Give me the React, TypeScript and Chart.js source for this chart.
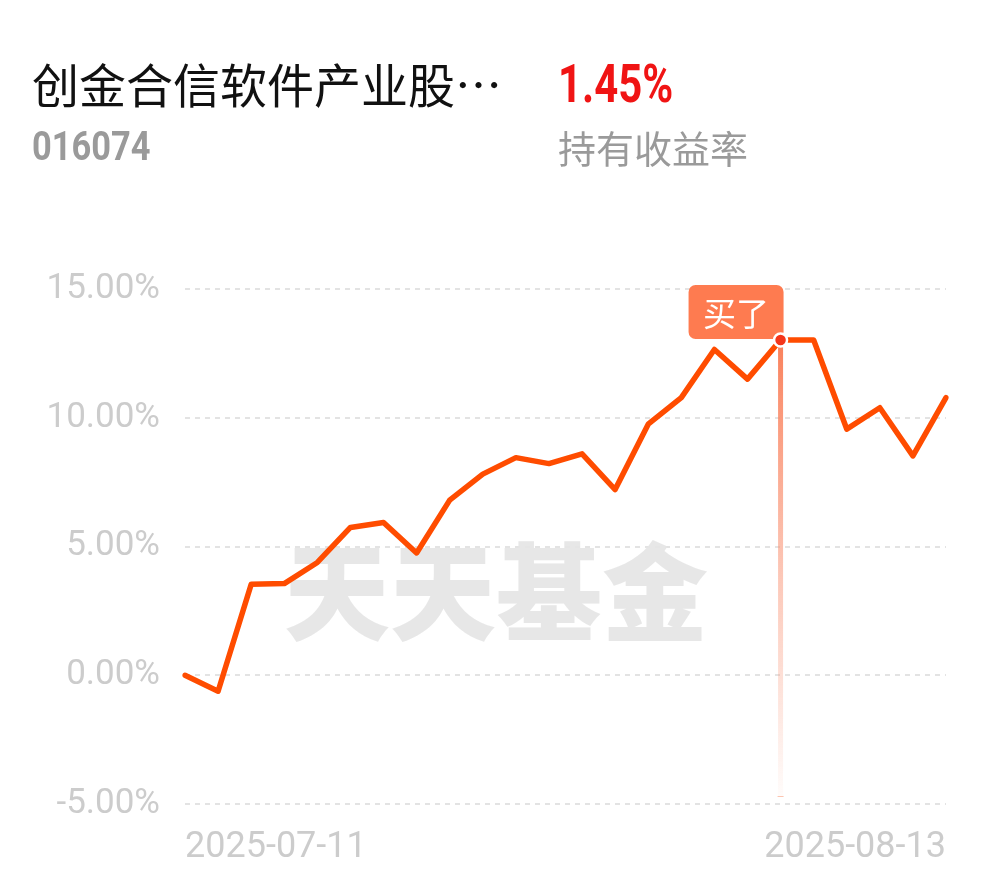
import React, { useEffect, useRef } from "react";
import { Chart, registerables } from "chart.js";

Chart.register(...registerables);

const dates = [
  "2025-07-11", "2025-07-14", "2025-07-15", "2025-07-16", "2025-07-17", "2025-07-18",
  "2025-07-21", "2025-07-22", "2025-07-23", "2025-07-24", "2025-07-25",
  "2025-07-28", "2025-07-29", "2025-07-30", "2025-07-31", "2025-08-01",
  "2025-08-04", "2025-08-05", "2025-08-06", "2025-08-07", "2025-08-08",
  "2025-08-11", "2025-08-12", "2025-08-13",
];
const returns = [
  0, -0.62, 3.53, 3.56, 4.38, 5.74, 5.93, 4.75, 6.8, 7.81, 8.45, 8.22,
  8.6, 7.21, 9.75, 10.78, 12.65, 11.5, 13.02, 13.02, 9.56, 10.39, 8.52, 10.78,
];
const yTicks = [-5, 0, 5, 10, 15];
const buyIndex = 18;
const buyLabel = "买了";
const watermark = "天天基金";
const fundName = "创金合信软件产业股…";
const fundCode = "016074";
const holdReturn = "1.45%";
const holdReturnLabel = "持有收益率";

const decorPlugin = {
  id: "decor",
  beforeDatasetsDraw(chart: any) {
    const { ctx, scales } = chart;
    // watermark
    ctx.save();
    ctx.font = '900 106px "Noto Sans CJK SC"';
    ctx.fillStyle = "rgba(228,228,228,0.9)";
    ctx.textAlign = "center";
    ctx.textBaseline = "middle";
    ctx.fillText(watermark, 496, 592);
    ctx.restore();
    // buy vertical line
    const pt = chart.getDatasetMeta(0).data[buyIndex];
    if (!pt) return;
    const bottom = scales.y.getPixelForValue(-5) - 8;
    const g = ctx.createLinearGradient(0, pt.y, 0, bottom);
    g.addColorStop(0, "rgba(250,128,90,1)");
    g.addColorStop(0.5, "rgba(250,150,120,0.55)");
    g.addColorStop(1, "rgba(250,150,120,0.03)");
    ctx.save();
    ctx.fillStyle = g;
    ctx.fillRect(pt.x - 2.5, pt.y, 5, bottom - pt.y);
    ctx.fillStyle = "rgba(250,140,100,0.5)";
    ctx.fillRect(pt.x - 3, bottom, 6, 1);
    ctx.restore();
  },
  afterDatasetsDraw(chart: any) {
    const { ctx } = chart;
    const pt = chart.getDatasetMeta(0).data[buyIndex];
    if (!pt) return;
    ctx.save();
    const w = 95, h = 54, r = 7;
    const right = pt.x + 3, bot = pt.y - 1;
    const left = right - w, top = bot - h;
    ctx.fillStyle = "#fe7b50";
    ctx.beginPath();
    ctx.roundRect(left, top, w, h, r);
    ctx.fill();
    ctx.fillStyle = "#ffffff";
    ctx.font = '400 33px "Noto Sans CJK SC"';
    ctx.textAlign = "center";
    ctx.textBaseline = "middle";
    ctx.fillText(buyLabel, left + w / 2, top + h / 2 + 1);
    ctx.beginPath();
    ctx.arc(pt.x, pt.y, 6.5, 0, Math.PI * 2);
    ctx.fillStyle = "#f4361b";
    ctx.fill();
    ctx.lineWidth = 2.5;
    ctx.strokeStyle = "#ffffff";
    ctx.stroke();
    ctx.restore();
  },
};

export default function App() {
  const ref = useRef<HTMLCanvasElement>(null);
  useEffect(() => {
    const prevMargin = document.body.style.margin;
    document.body.style.margin = "0";
    const last = dates.length - 1;
    const chart = new Chart(ref.current as HTMLCanvasElement, {
      type: "line",
      data: {
        labels: dates,
        datasets: [
          {
            data: returns,
            borderColor: "#ff4c00",
            borderWidth: 5.5,
            pointRadius: 0,
            tension: 0,
            borderCapStyle: "round",
            borderJoinStyle: "round",
            fill: false,
          },
        ],
      },
      options: {
        responsive: false,
        animation: false,
        events: [],
        layout: { padding: { top: 289, right: 44, bottom: 18, left: 0 } },
        plugins: { legend: { display: false }, tooltip: { enabled: false } },
        scales: {
          x: {
            type: "category",
            grid: { display: false },
            border: { display: false },
            afterFit: (s: any) => { s.height = 56; },
            ticks: {
              autoSkip: false,
              maxRotation: 0,
              minRotation: 0,
              align: "inner",
              padding: 14,
              color: "#cccccc",
              font: { family: "Roboto", size: 36 },
              callback: (_v: any, i: number) => (i === 0 || i === last ? dates[i] : ""),
            },
          },
          y: {
            min: -5,
            max: 15,
            afterBuildTicks: (s: any) => { s.ticks = yTicks.map((v) => ({ value: v })); },
            afterFit: (s: any) => { s.width = 185; },
            grid: { color: "#e3e3e3", lineWidth: 2, drawTicks: false },
            border: { display: false, dash: [5, 5] },
            ticks: {
              padding: 25,
              color: "#cccccc",
              font: { family: "Roboto", size: 35 },
              callback: (v: any) => Number(v).toFixed(2) + "%",
            },
          },
        },
      },
      plugins: [decorPlugin],
    });
    return () => {
      chart.destroy();
      document.body.style.margin = prevMargin;
    };
  }, []);

  return (
    <div style={{ position: "absolute", left: 0, top: 0, width: 990, height: 878, background: "#fff", overflow: "hidden" }}>
      <canvas ref={ref} width={990} height={878} style={{ position: "absolute", left: 0, top: 0, width: 990, height: 878 }} />
      <div style={{ position: "absolute", left: 32, top: 54, fontFamily: '"Noto Sans CJK SC"', fontSize: 47, lineHeight: "58px", color: "#111", whiteSpace: "nowrap" }}>
        {fundName}
      </div>
      <div style={{ position: "absolute", left: 32, top: 122, fontFamily: "Roboto", fontWeight: 700, fontSize: 41, lineHeight: "48px", color: "#9a9a9a", transform: "scaleX(0.84)", transformOrigin: "left top", whiteSpace: "nowrap" }}>
        {fundCode}
      </div>
      <div style={{ position: "absolute", left: 558, top: 52, fontFamily: "Roboto", fontWeight: 700, fontSize: 53, lineHeight: "64px", color: "#f01414", transform: "scaleX(0.79)", transformOrigin: "left top", whiteSpace: "nowrap" }}>
        {holdReturn}
      </div>
      <div style={{ position: "absolute", left: 558, top: 122, fontFamily: '"Noto Sans CJK SC"', fontSize: 38, lineHeight: "50px", color: "#9a9a9a", whiteSpace: "nowrap" }}>
        {holdReturnLabel}
      </div>
    </div>
  );
}
